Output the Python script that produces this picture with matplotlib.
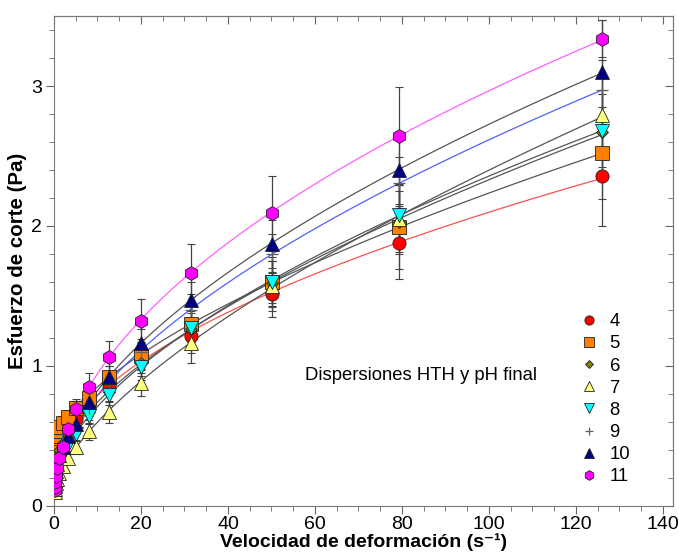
import numpy as np
import matplotlib
matplotlib.use('Agg')
import matplotlib.pyplot as plt
from matplotlib.ticker import MultipleLocator

plt.rcParams['font.family'] = ['Liberation Sans', 'DejaVu Sans']

# velocidad de deformacion (s-1)
gamma = [0.126, 0.2, 0.316, 0.5, 0.79, 1.26, 2.0, 3.16, 5.01, 7.94, 12.6, 20.0, 31.6, 50.1, 79.4, 125.9]

# esfuerzo de corte (Pa) por pH
ph_labels = ['4', '5', '6', '7', '8', '9', '10', '11']
tau_4 = [0.25, 0.28, 0.32, 0.36, 0.40, 0.45, 0.50, 0.55, 0.62, 0.72, 0.86, 1.04, 1.21, 1.51, 1.88, 2.36]
tau_5 = [0.42, 0.45, 0.48, 0.50, 0.53, 0.56, 0.59, 0.63, 0.70, 0.77, 0.92, 1.07, 1.30, 1.60, 1.99, 2.52]
tau_6 = [0.24, 0.26, 0.29, 0.32, 0.36, 0.40, 0.45, 0.50, 0.56, 0.67, 0.81, 1.02, 1.26, 1.59, 2.03, 2.67]
tau_7 = [0.10, 0.12, 0.14, 0.16, 0.19, 0.23, 0.28, 0.34, 0.42, 0.53, 0.67, 0.88, 1.16, 1.57, 2.05, 2.79]
tau_8 = [0.16, 0.18, 0.21, 0.24, 0.28, 0.32, 0.37, 0.43, 0.51, 0.64, 0.79, 0.99, 1.27, 1.60, 2.08, 2.68]
tau_9 = [0.16, 0.19, 0.22, 0.26, 0.30, 0.35, 0.41, 0.48, 0.58, 0.70, 0.88, 1.10, 1.40, 1.80, 2.31, 2.97]
tau_10 = [0.15, 0.18, 0.21, 0.25, 0.30, 0.36, 0.42, 0.50, 0.58, 0.74, 0.92, 1.16, 1.47, 1.87, 2.40, 3.10]
tau_11 = [0.11, 0.13, 0.17, 0.21, 0.27, 0.34, 0.42, 0.55, 0.69, 0.85, 1.06, 1.32, 1.66, 2.09, 2.64, 3.34]

# desviaciones (Pa)
err_4 = [0.02, 0.02, 0.02, 0.03, 0.03, 0.03, 0.04, 0.04, 0.05, 0.06, 0.07, 0.09, 0.12, 0.16, 0.26, 0.36]
err_5 = [0.03, 0.03, 0.03, 0.04, 0.04, 0.04, 0.05, 0.05, 0.06, 0.07, 0.08, 0.10, 0.13, 0.18, 0.30, 0.33]
err_6 = [0.02, 0.02, 0.02, 0.03, 0.03, 0.03, 0.04, 0.04, 0.05, 0.06, 0.07, 0.09, 0.12, 0.16, 0.22, 0.30]
err_7 = [0.01, 0.01, 0.02, 0.02, 0.02, 0.03, 0.03, 0.04, 0.05, 0.06, 0.08, 0.10, 0.14, 0.18, 0.25, 0.28]
err_8 = [0.01, 0.02, 0.02, 0.02, 0.03, 0.03, 0.04, 0.04, 0.05, 0.06, 0.07, 0.09, 0.12, 0.15, 0.21, 0.26]
err_9 = [0.01, 0.02, 0.02, 0.02, 0.03, 0.03, 0.04, 0.04, 0.05, 0.06, 0.07, 0.09, 0.11, 0.14, 0.18, 0.22]
err_10 = [0.01, 0.02, 0.02, 0.02, 0.03, 0.03, 0.04, 0.05, 0.06, 0.07, 0.08, 0.10, 0.13, 0.17, 0.24, 0.37]
err_11 = [0.01, 0.01, 0.02, 0.02, 0.03, 0.03, 0.04, 0.05, 0.06, 0.10, 0.12, 0.16, 0.21, 0.27, 0.35, 0.13]

series = [tau_4, tau_5, tau_6, tau_7, tau_8, tau_9, tau_10, tau_11]
errors = [err_4, err_5, err_6, err_7, err_8, err_9, err_10, err_11]
markers = ['o', 's', 'D', '^', 'v', '+', '^', 'h']
face = ['#ff0000', '#ff8000', '#808000', '#ffff80', '#00ffff', '#606060', '#000080', '#ff00ff']
msize = [9.5, 9.5, 6.5, 9.5, 9.5, 8, 9.5, 10]
fitcol = ['#ff5050', '#555555', '#555555', '#555555', '#555555', '#5060ff', '#555555', '#ff60ff']


def hb_fit(x, y):
    # Herschel-Bulkley: tau = tau0 + K * gamma^n
    best = None
    for n in np.linspace(0.2, 1.0, 161):
        A = np.column_stack([np.ones_like(x), x ** n])
        c, res, _, _ = np.linalg.lstsq(A, y, rcond=None)
        r = np.sum((A @ c - y) ** 2)
        if best is None or r < best[0]:
            best = (r, c[0], c[1], n)
    return best[1:]


fig = plt.figure(figsize=(6.79, 5.58), dpi=100)
ax = fig.add_axes([0.0795, 0.094, 0.9115, 0.877])

x = np.array(gamma)
xs = np.linspace(x[0], x[-1], 400)
for y, col in zip(series, fitcol):
    t0, K, n = hb_fit(x, np.array(y))
    ax.plot(xs, t0 + K * xs ** n, color=col, lw=0.9, zorder=2)

handles = []
for y, e, m, fc, ms, lab in zip(series, errors, markers, face, msize, ph_labels):
    ax.errorbar(gamma, y, yerr=e, fmt='none', ecolor='#444444', elinewidth=0.9,
                capsize=3, capthick=0.8, zorder=3)
    if m == '+':
        h, = ax.plot(gamma, y, ls='none', marker=m, ms=ms, mew=0.9, color=fc, zorder=4, label=lab)
    else:
        h, = ax.plot(gamma, y, ls='none', marker=m, ms=ms, mfc=fc, mec='#222222', mew=0.6,
                     zorder=4, label=lab)
    handles.append(h)

ax.set_xlim(0, 142.3)
ax.set_ylim(0, 3.5)
ax.xaxis.set_major_locator(MultipleLocator(20))
ax.xaxis.set_minor_locator(MultipleLocator(5))
ax.yaxis.set_major_locator(MultipleLocator(1))
ax.yaxis.set_minor_locator(MultipleLocator(0.2))
ax.tick_params(axis='both', which='major', labelsize=14, length=6, color='#666666', pad=2.5)
ax.tick_params(axis='both', which='minor', length=3.5, color='#666666')
ax.tick_params(axis='x', which='both', direction='out', top=False)
ax.tick_params(axis='x', which='major', pad=1.5)
ax.tick_params(axis='y', which='both', direction='out', right=False)
ax2 = ax.secondary_xaxis('top')
ax2.xaxis.set_major_locator(MultipleLocator(20))
ax2.xaxis.set_minor_locator(MultipleLocator(5))
ax2.tick_params(which='major', direction='in', length=6, color='#666666', labeltop=False)
ax2.tick_params(which='minor', direction='in', length=3.5, color='#666666')
ax3 = ax.secondary_yaxis('right')
ax3.yaxis.set_major_locator(MultipleLocator(1))
ax3.yaxis.set_minor_locator(MultipleLocator(0.2))
ax3.tick_params(which='major', direction='in', length=6, color='#666666', labelright=False)
ax3.tick_params(which='minor', direction='in', length=3.5, color='#666666')
for a in (ax, ax2, ax3):
    for s in a.spines.values():
        s.set_color('#777777')

ax.set_xlabel('Velocidad de deformación (s\u207b\u00b9)', fontsize=14,
              fontweight='bold', labelpad=0)
ax.set_ylabel('Esfuerzo de corte (Pa)', fontsize=14.8, fontweight='bold', labelpad=3)

ax.text(0.405, 0.265, 'Dispersiones HTH y pH final', transform=ax.transAxes,
        fontsize=13.3, ha='left', va='center')

ax.legend(handles=handles, loc='upper left', bbox_to_anchor=(0.835, 0.412), frameon=False,
          fontsize=13.3, markerscale=0.7, handlelength=1.0, handletextpad=0.6,
          labelspacing=0.28, borderpad=0)

fig.savefig('out.png', dpi=100)
